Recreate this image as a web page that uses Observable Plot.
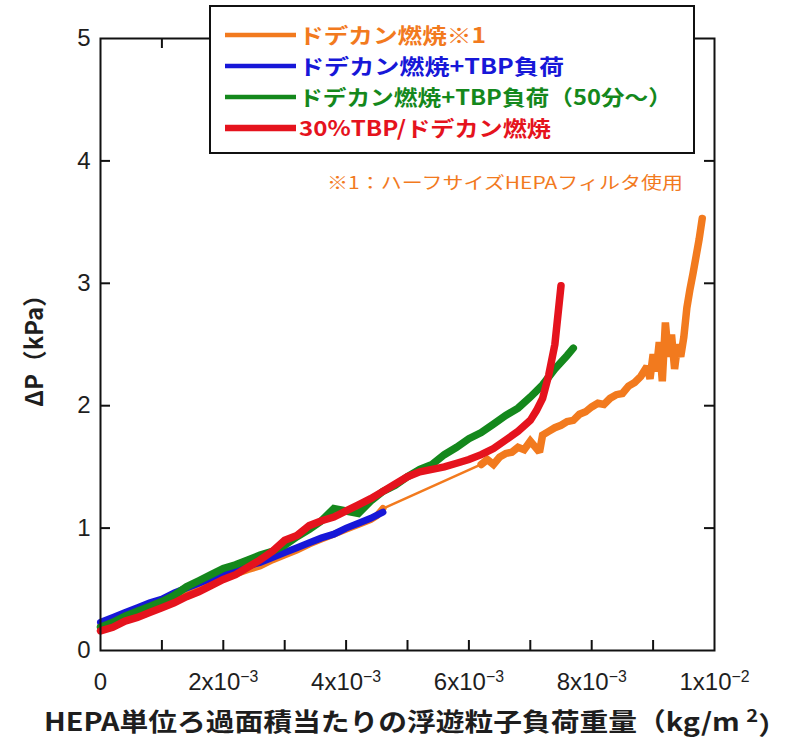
<!DOCTYPE html>
<html><head><meta charset="utf-8">
<script src="https://cdn.jsdelivr.net/npm/d3@7"></script>
<script src="https://cdn.jsdelivr.net/npm/@observablehq/plot@0.6"></script>
<style>body{margin:0;background:#fff}#chart{width:796px;height:746px}</style>
</head><body><div id="chart"></div>
<script>
// ---- data ----
const seriesNames = ["ドデカン燃焼※1", "ドデカン燃焼+TBP負荷", "ドデカン燃焼+TBP負荷（50分〜）", "30%TBP/ドデカン燃焼"];
const seriesColors = ["#f27a1e", "#1717d8", "#14881c", "#e5131d"];
const footnote = "※1：ハーフサイズHEPAフィルタ使用";
const xTitle = "HEPA単位ろ過面積当たりの浮遊粒子負荷重量";
const xUnit = ["（kg/m ", "2", "）"];
const yTitle = "ΔP（kPa）";

const xTickValues = [0, 0.002, 0.004, 0.006, 0.008, 0.01];
const xTickLabels = ["0", "2x10^−3", "4x10^−3", "6x10^−3", "8x10^−3", "1x10^−2"];
const yTickValues = [0, 1, 2, 3, 4, 5];
const xMinorTicks = [0.001, 0.002, 0.003, 0.004, 0.005, 0.006, 0.007, 0.008, 0.009];
const yMinorTicks = [1, 2, 3, 4];

// orange (half-size HEPA) – dense part 1, then straight gap, then dense part 2
const orange1X = [0, 0.0004, 0.0008, 0.0012, 0.0016, 0.002, 0.0024, 0.0026, 0.0028, 0.003, 0.0032, 0.0034, 0.0036, 0.0038, 0.004, 0.0042, 0.0044, 0.0045, 0.0046];
const orange1Y = [0.20, 0.28, 0.36, 0.44, 0.52, 0.59, 0.66, 0.69, 0.74, 0.78, 0.82, 0.87, 0.91, 0.95, 0.99, 1.03, 1.07, 1.10, 1.16];
const orange2X = [0.0062, 0.0063, 0.0064, 0.0065, 0.0066, 0.0067, 0.0068, 0.0069, 0.007, 0.00715, 0.0072, 0.0073, 0.0074, 0.0075, 0.0076, 0.0077, 0.0078, 0.0079, 0.008, 0.0081, 0.0082, 0.0083, 0.0084, 0.0085, 0.0086, 0.0087, 0.0088, 0.0089, 0.00895, 0.009, 0.00905, 0.0091, 0.00915, 0.0092, 0.00925, 0.0093, 0.00935, 0.0094, 0.00945, 0.0095, 0.00955, 0.0096, 0.00965, 0.0097, 0.00975, 0.0098];
const orange2Y = [1.52, 1.56, 1.52, 1.58, 1.61, 1.62, 1.66, 1.64, 1.71, 1.62, 1.76, 1.79, 1.82, 1.84, 1.87, 1.88, 1.93, 1.95, 1.99, 2.02, 2.01, 2.06, 2.09, 2.10, 2.16, 2.19, 2.24, 2.32, 2.22, 2.42, 2.28, 2.52, 2.20, 2.68, 2.40, 2.58, 2.30, 2.50, 2.40, 2.56, 2.80, 2.95, 3.08, 3.22, 3.36, 3.53];

const blueX = [0, 0.0002, 0.0004, 0.0006, 0.0008, 0.001, 0.0012, 0.0014, 0.0016, 0.0018, 0.002, 0.0022, 0.0024, 0.0026, 0.0028, 0.003, 0.0032, 0.0034, 0.0036, 0.0038, 0.004, 0.0042, 0.0044, 0.0046];
const blueY = [0.23, 0.27, 0.31, 0.35, 0.39, 0.42, 0.47, 0.51, 0.55, 0.59, 0.63, 0.66, 0.69, 0.72, 0.76, 0.80, 0.84, 0.88, 0.92, 0.95, 1.00, 1.04, 1.08, 1.13];

const greenX = [0, 0.0002, 0.0004, 0.0006, 0.0008, 0.001, 0.0012, 0.0014, 0.0016, 0.0018, 0.002, 0.0022, 0.0024, 0.0026, 0.0028, 0.003, 0.0032, 0.0034, 0.0036, 0.0038, 0.004, 0.0042, 0.0044, 0.0046, 0.0048, 0.005, 0.0052, 0.0054, 0.0056, 0.0058, 0.006, 0.0062, 0.0064, 0.0066, 0.0068, 0.007, 0.0072, 0.0074, 0.0076, 0.0077];
const greenY = [0.19, 0.23, 0.28, 0.32, 0.36, 0.40, 0.45, 0.52, 0.57, 0.62, 0.67, 0.70, 0.74, 0.78, 0.81, 0.86, 0.93, 0.99, 1.06, 1.16, 1.14, 1.12, 1.22, 1.30, 1.35, 1.42, 1.48, 1.52, 1.60, 1.66, 1.73, 1.78, 1.85, 1.92, 1.98, 2.07, 2.17, 2.30, 2.41, 2.47];

const redX = [0, 0.0002, 0.0004, 0.0006, 0.0008, 0.001, 0.0012, 0.0014, 0.0016, 0.0018, 0.002, 0.0022, 0.0024, 0.0026, 0.0028, 0.003, 0.0032, 0.0034, 0.0036, 0.0038, 0.004, 0.0042, 0.0044, 0.0046, 0.0048, 0.005, 0.0052, 0.0054, 0.0056, 0.0058, 0.006, 0.0062, 0.0064, 0.0066, 0.0068, 0.007, 0.0071, 0.0072, 0.0073, 0.0074, 0.0075];
const redY = [0.16, 0.19, 0.24, 0.27, 0.31, 0.35, 0.39, 0.44, 0.48, 0.53, 0.58, 0.62, 0.68, 0.74, 0.81, 0.90, 0.94, 1.02, 1.06, 1.09, 1.14, 1.19, 1.24, 1.30, 1.36, 1.42, 1.46, 1.48, 1.50, 1.53, 1.56, 1.60, 1.65, 1.72, 1.79, 1.88, 1.96, 2.06, 2.25, 2.50, 2.98];

// ---- build tables ----
const toRows = (xs, ys) => xs.map((x, i) => ({x, y: ys[i]}));
const orange1 = toRows(orange1X, orange1Y);
const orange2 = toRows(orange2X, orange2Y);
const orangeGap = [orange1[orange1.length - 1], orange2[0]];
const blue = toRows(blueX, blueY);
const green = toRows(greenX, greenY);
const red = toRows(redX, redY);

const W = 796, H = 746, mL = 100, mR = 82, mT = 38, mB = 96;
const fw = W - mL - mR, fh = H - mT - mB, tk = 10;

const line = (data, i, w) => Plot.line(data, {x: "x", y: "y", stroke: seriesColors[i], strokeWidth: w, strokeLinejoin: "miter", strokeMiterlimit: 2});

const svg = Plot.plot({
  width: W, height: H,
  marginLeft: mL, marginRight: mR, marginTop: mT, marginBottom: mB,
  style: {fontFamily: "'Liberation Sans', Arial, sans-serif", fontSize: "24px", color: "#1e1e1e", background: "#fff", overflow: "visible"},
  x: {domain: [0, 0.01]},
  y: {domain: [0, 5]},
  marks: [
    line(orange1, 0, 7),
    line(orangeGap, 0, 2.5),
    line(orange2, 0, 7.5),
    line(blue, 1, 7),
    line(green, 2, 7.5),
    line(red, 3, 7.5),
    Plot.frame({stroke: "#111", strokeWidth: 2}),
    Plot.ruleX(xMinorTicks, {x: d => d, insetTop: fh - tk, stroke: "#111", strokeWidth: 2}),
    Plot.ruleX(xMinorTicks, {x: d => d, insetBottom: fh - tk, stroke: "#111", strokeWidth: 2}),
    Plot.ruleY(yMinorTicks, {y: d => d, insetRight: fw - tk, stroke: "#111", strokeWidth: 2}),
    Plot.ruleY(yMinorTicks, {y: d => d, insetLeft: fw - tk, stroke: "#111", strokeWidth: 2}),
    Plot.axisX({ticks: xTickValues, tickFormat: d => xTickLabels[xTickValues.indexOf(d)], tickSize: 0, tickPadding: 22, label: null}),
    Plot.axisY({ticks: yTickValues, tickFormat: d => String(d), tickSize: 0, tickPadding: 10, label: null})
  ]
});
document.getElementById("chart").appendChild(svg);

const s = d3.select(svg);
// superscript exponents on x tick labels
s.selectAll("text").each(function () {
  const t = this.textContent;
  if (t.includes("^")) {
    const [base, exp] = t.split("^");
    const el = d3.select(this);
    el.text(null);
    el.append("tspan").text(base);
    el.append("tspan").attr("dy", "-0.45em").attr("font-size", "0.66em").text(exp);
  }
});

const cjk = "'Noto Sans CJK JP', 'Noto Sans', sans-serif";
// y axis title
s.append("text")
  .attr("transform", "translate(32,345) rotate(-90)")
  .attr("text-anchor", "middle").attr("dominant-baseline", "central")
  .attr("font-family", cjk).attr("font-size", 24).attr("font-weight", 700).attr("fill", "#1e1e1e")
  .attr("textLength", 124).attr("lengthAdjust", "spacingAndGlyphs")
  .text(yTitle);
// x axis title
const xt = s.append("text")
  .attr("x", 44).attr("y", 731).attr("text-anchor", "start")
  .attr("font-family", cjk).attr("font-size", 25).attr("font-weight", 700).attr("fill", "#1e1e1e")
  .attr("textLength", 743).attr("lengthAdjust", "spacingAndGlyphs");
xt.append("tspan").text(xTitle);
xt.append("tspan").text(xUnit[0]);
xt.append("tspan").attr("dy", "-0.5em").attr("font-size", "0.7em").text(xUnit[1]);
xt.append("tspan").attr("dy", "0.5em").text(xUnit[2]);

// legend box
const lg = s.append("g").attr("text-anchor", "start");
lg.append("rect").attr("x", 210).attr("y", 6).attr("width", 484).attr("height", 147)
  .attr("fill", "#fff").attr("stroke", "#111").attr("stroke-width", 2);
const legendY = [35, 66, 97, 128];
const legendW = [187, 265, 373, 252];
const legendSW = [4.5, 4.5, 4.5, 6.5];
seriesNames.forEach((name, i) => {
  lg.append("line").attr("x1", 225).attr("x2", 296).attr("y1", legendY[i]).attr("y2", legendY[i])
    .attr("stroke", seriesColors[i]).attr("stroke-width", legendSW[i]);
  lg.append("text").attr("x", 299).attr("y", legendY[i] + 8).attr("text-anchor", "start")
    .attr("font-family", cjk).attr("font-size", 21).attr("font-weight", 700).attr("fill", seriesColors[i])
    .attr("textLength", legendW[i]).attr("lengthAdjust", "spacingAndGlyphs")
    .text(name);
});
// footnote
s.append("text").attr("x", 327).attr("y", 189).attr("text-anchor", "start")
  .attr("font-family", cjk).attr("font-size", 17).attr("font-weight", 400).attr("fill", seriesColors[0])
  .attr("textLength", 356).attr("lengthAdjust", "spacingAndGlyphs")
  .text(footnote);
</script></body></html>
